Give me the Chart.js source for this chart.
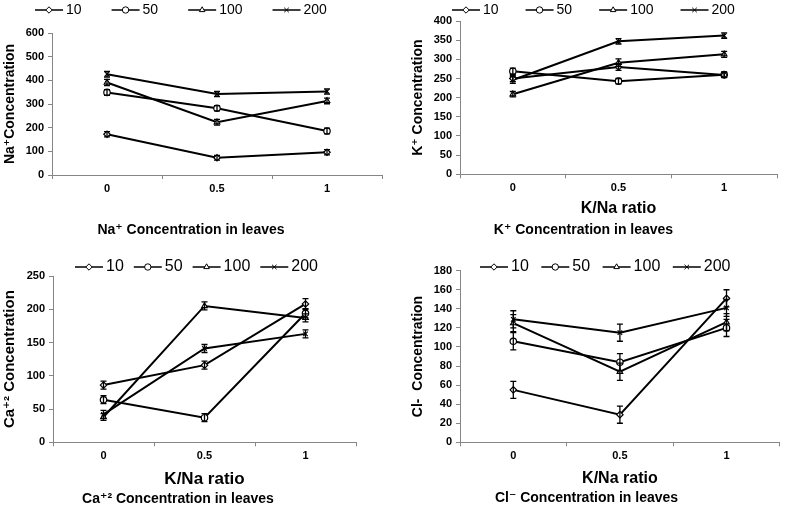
<!DOCTYPE html>
<html>
<head>
<meta charset="utf-8">
<script src="https://cdn.jsdelivr.net/npm/chart.js"></script>
<style>
  html, body { margin: 0; padding: 0; background: #fff; overflow: hidden; width: 785px; height: 505px; }
  canvas { position: absolute; }
</style>
</head>
<body>
<canvas id="naChart" width="390" height="250" style="left:0px;top:0px"></canvas>
<canvas id="kChart" width="395" height="250" style="left:390px;top:0px"></canvas>
<canvas id="caChart" width="390" height="265" style="left:0px;top:250px"></canvas>
<canvas id="clChart" width="395" height="265" style="left:390px;top:250px"></canvas>
<script>
// K/Na ratio categories and series (NaCl levels)
var ratios = ['0', '0.5', '1'];
var seriesNames = ['10', '50', '100', '200'];

// Na+ in leaves
var na10  = [172, 73, 96];
var na50  = [349, 282, 186];
var na100 = [391, 223, 313];
var na200 = [426, 342, 353];
var naErr10  = [11, 10, 11];
var naErr50  = [12, 11, 12];
var naErr100 = [13, 12, 12];
var naErr200 = [12, 11, 11];

// K+ in leaves
var k10  = [250, 280, 259];
var k50  = [269, 243, 260];
var k100 = [209, 291, 313];
var k200 = [246, 347, 362];
var kErr10  = [8, 9, 7];
var kErr50  = [8, 7, 7];
var kErr100 = [7, 10, 8];
var kErr200 = [9, 7, 7];

// Ca+2 in leaves
var ca10  = [86, 116, 208];
var ca50  = [64, 37, 194];
var ca100 = [38, 205, 187];
var ca200 = [42, 141, 163];
var caErr10  = [6, 6, 8];
var caErr50  = [6, 6, 7];
var caErr100 = [5, 6, 6];
var caErr200 = [6, 6, 6];

// Cl- in leaves
var cl10  = [55, 29, 151];
var cl50  = [106, 84, 120];
var cl100 = [125, 74, 126];
var cl200 = [129, 115, 141];
var clErr10  = [9, 9, 9];
var clErr50  = [9, 9, 9];
var clErr100 = [9, 9, 9];
var clErr200 = [9, 9, 9];

var FONT = '"Liberation Sans", Arial, "DejaVu Sans", sans-serif';
var markers = ['rectRot', 'circle', 'triangle', 'crossRot'];
var axisGrey = '#868686';

// error bars drawn through the y scale
var errorBars = {
  id: 'errorBars',
  afterDatasetsDraw: function(chart) {
    var ctx = chart.ctx, y = chart.scales.y;
    chart.data.datasets.forEach(function(ds, i) {
      var meta = chart.getDatasetMeta(i);
      meta.data.forEach(function(pt, j) {
        var top = y.getPixelForValue(ds.data[j] + ds.errors[j]);
        var bot = y.getPixelForValue(ds.data[j] - ds.errors[j]);
        ctx.save();
        ctx.strokeStyle = '#000';
        ctx.lineWidth = 1.3;
        ctx.beginPath();
        ctx.moveTo(pt.x, top); ctx.lineTo(pt.x, bot);
        ctx.moveTo(pt.x - 3, top); ctx.lineTo(pt.x + 3, top);
        ctx.moveTo(pt.x - 3, bot); ctx.lineTo(pt.x + 3, bot);
        ctx.stroke();
        ctx.restore();
      });
    });
  }
};

// excel style legend: line with the marker in the middle
var lineLegend = {
  id: 'lineLegend',
  afterDraw: function(chart, args, o) {
    var ctx = chart.ctx;
    var x = o.x;
    ctx.save();
    ctx.font = o.size + 'px ' + FONT;
    ctx.textBaseline = 'middle';
    chart.data.datasets.forEach(function(ds) {
      ctx.strokeStyle = '#000';
      ctx.lineWidth = 1.5;
      ctx.beginPath();
      ctx.moveTo(x, o.y); ctx.lineTo(x + 28, o.y);
      ctx.stroke();
      ctx.fillStyle = '#fff';
      ctx.lineWidth = 1;
      Chart.helpers.drawPoint(ctx, {pointStyle: ds.pointStyle, radius: 3.2, rotation: 0, borderWidth: 1}, x + 14, o.y);
      ctx.fillStyle = '#000';
      ctx.fillText(ds.label, x + 31, o.y);
      x += 31 + ctx.measureText(ds.label).width + o.gap;
    });
    ctx.restore();
  }
};

function buildDatasets(values, errors) {
  return seriesNames.map(function(name, i) {
    return {
      label: name,
      data: values[i],
      errors: errors[i],
      borderColor: '#000',
      borderWidth: 2,
      pointStyle: markers[i],
      pointRadius: 3.2,
      pointBackgroundColor: '#fff',
      pointBorderColor: '#000',
      pointBorderWidth: 1.2,
      tension: 0
    };
  });
}

function makePanel(id, values, errors, p) {
  var ctx = document.getElementById(id).getContext('2d');
  return new Chart(ctx, {
    type: 'line',
    data: { labels: ratios, datasets: buildDatasets(values, errors) },
    plugins: [errorBars, lineLegend],
    options: {
      responsive: false,
      animation: false,
      devicePixelRatio: 1,
      layout: { padding: p.pad },
      plugins: {
        legend: { display: false },
        tooltip: { enabled: false },
        title: {
          display: true, position: 'bottom', text: p.caption, color: '#000',
          font: { family: FONT, size: 14, weight: 'bold', lineHeight: 1.2 },
          padding: 0
        },
        lineLegend: p.legend
      },
      scales: {
        x: {
          type: 'category',
          offset: true,
          grid: { display: true, drawOnChartArea: false, drawTicks: true, tickLength: 4, offset: true, color: axisGrey },
          border: { display: true, color: axisGrey, width: 1 },
          ticks: { color: '#000', padding: 3, maxRotation: 0, font: { family: FONT, size: 11, weight: 'bold' } },
          title: {
            display: !!p.xTitle, text: p.xTitle || '', color: '#000',
            font: { family: FONT, size: p.xTitleSize || 16, weight: 'bold', lineHeight: 1.2 },
            padding: { top: 0, bottom: p.xTitlePad || 0 }
          },
          afterFit: function(s) { s.height = p.xHeight; }
        },
        y: {
          min: 0, max: p.yMax,
          grid: { display: true, drawOnChartArea: false, drawTicks: true, tickLength: 4, color: axisGrey },
          border: { display: true, color: axisGrey, width: 1 },
          ticks: { stepSize: p.yStep, color: '#000', padding: 4, font: { family: FONT, size: 11, weight: 'bold' } },
          title: {
            display: true, text: p.yTitle, color: '#000',
            font: { family: FONT, size: p.yTitleSize || 14, weight: 'bold', lineHeight: 1.2 },
            padding: { top: p.yTitlePad, bottom: 0 }
          },
          afterFit: function(s) { s.width = p.yWidth; }
        }
      }
    }
  });
}

makePanel('naChart', [na10, na50, na100, na200], [naErr10, naErr50, naErr100, naErr200], {
  pad: { left: 0, top: 33, right: 8, bottom: 11.6 },
  yWidth: 52, xHeight: 46.6, yMax: 600, yStep: 100,
  yTitle: 'Na\u207AConcentration', yTitlePad: 1.6,
  xTitle: null,
  caption: 'Na\u207A Concentration in leaves',
  legend: { x: 35, y: 10, size: 14, gap: 30 }
});

makePanel('kChart', [k10, k50, k100, k200], [kErr10, kErr50, kErr100, kErr200], {
  pad: { left: 0, top: 21, right: 8, bottom: 11.6 },
  yWidth: 70, xHeight: 47.3, yMax: 400, yStep: 50,
  yTitle: 'K\u207A Concentration', yTitlePad: 19.6,
  xTitle: 'K/Na ratio', xTitleSize: 16, xTitlePad: 3,
  caption: 'K\u207A Concentration in leaves',
  legend: { x: 62, y: 10, size: 14, gap: 27 }
});

makePanel('caChart', [ca10, ca50, ca100, ca200], [caErr10, caErr50, caErr100, caErr200], {
  pad: { left: 0, top: 26, right: 34, bottom: 7.6 },
  yWidth: 53, xHeight: 48.3, yMax: 250, yStep: 50,
  yTitle: 'Ca\u207A\u00B2 Concentration', yTitleSize: 15, yTitlePad: 1,
  xTitle: 'K/Na ratio', xTitleSize: 17, xTitlePad: 1.4,
  caption: 'Ca\u207A\u00B2 Concentration in leaves',
  legend: { x: 75, y: 17, size: 16, gap: 10 }
});

makePanel('clChart', [cl10, cl50, cl100, cl200], [clErr10, clErr50, clErr100, clErr200], {
  pad: { left: 0, top: 20.7, right: 2, bottom: 8.6 },
  yWidth: 70, xHeight: 47.3, yMax: 180, yStep: 20,
  yTitle: 'Cl-  Concentration', yTitlePad: 19.6,
  xTitle: 'K/Na ratio', xTitleSize: 16, xTitlePad: 1,
  caption: 'Cl\u207B Concentration in leaves',
  legend: { x: 90, y: 17, size: 16, gap: 12.5 }
});
</script>
</body>
</html>
